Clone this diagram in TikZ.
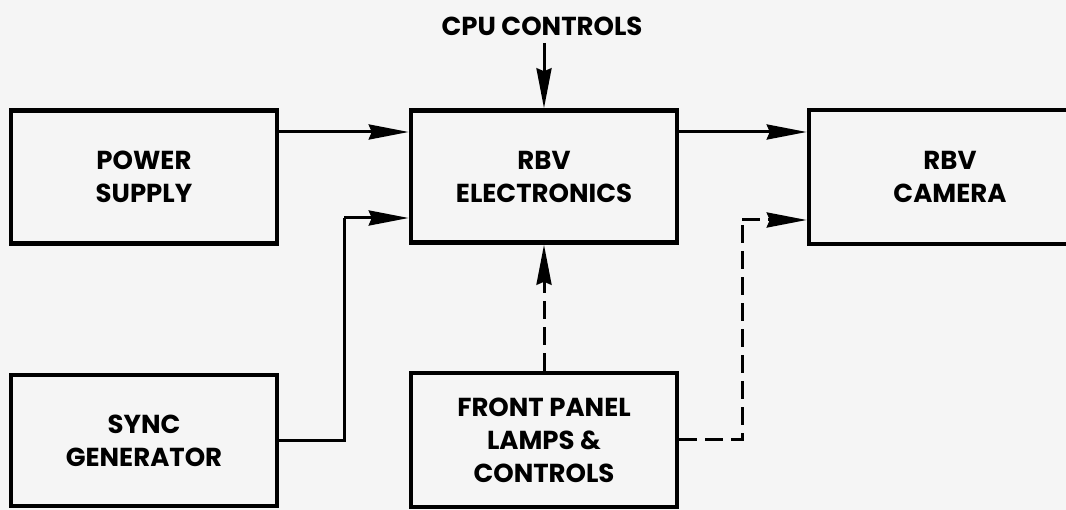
\documentclass[tikz,border=0pt]{standalone}
\usepackage{fontspec}
\setmainfont{Poppins}
\usetikzlibrary{arrows.meta,calc}
\tikzset{
  blk/.style={draw, line width=4.5pt, minimum width=266pt, align=center,
    font=\fontsize{26}{33}\selectfont\bfseries, inner sep=0pt},
  lbl/.style={font=\fontsize{26}{33}\selectfont\bfseries, inner sep=0pt},
  arr/.style={line width=3pt, -{Stealth[length=40pt,width=15pt,inset=3pt]}},
  darr/.style={arr, dash pattern=on 18pt off 8pt},
}
\begin{document}
\begin{tikzpicture}[x=1pt,y=-1pt]
\clip (0,0) rectangle (1066,510);
\fill[black!4] (0,0) rectangle (1066,510);
\node[blk, minimum height=133pt] (ps) at (144,177) {POWER\\SUPPLY};
\node[blk, minimum height=131pt] (sg) at (144,440.5) {SYNC\\GENERATOR};
\node[blk, minimum height=132pt] (el) at (544,176.5) {RBV\\ELECTRONICS};
\node[blk, minimum height=134pt] (fp) at (544,440) {FRONT PANEL\\LAMPS \&\\CONTROLS};
\node[blk, minimum height=134pt, minimum width=282pt] (cam) at (950,177) {RBV\\CAMERA};
\node[lbl] (cpu) at (542,26) {CPU CONTROLS};
\coordinate (cputail) at (544,43);
\draw[arr] (cputail) -- (el.north);
\draw[arr] (ps.east |- 0,132) -- (el.west |- 0,132);
\draw[arr] (el.east |- 0,132) -- (cam.west |- 0,132);
\draw[line width=3pt] (sg.east) -| (344,218);
\draw[arr] (344,218) -- (el.west |- 0,218);
\draw[darr] (fp.north) -- (el.south);
\draw[line width=3pt, dash pattern=on 18pt off 8pt] (fp.east) -| (742,220);
\draw[darr] (742,220) -- (cam.west |- 0,220);
\end{tikzpicture}
\end{document}
